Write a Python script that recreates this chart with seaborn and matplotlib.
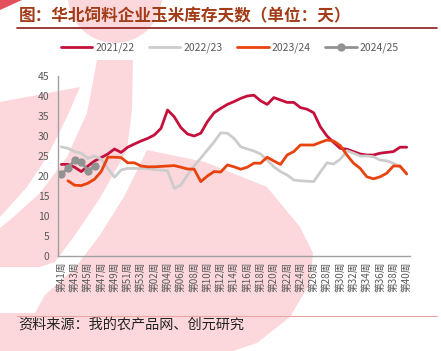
import numpy as np
import pandas as pd
import matplotlib
matplotlib.use("Agg")
import matplotlib.pyplot as plt
import seaborn as sns
from matplotlib.patches import Polygon, Circle
from matplotlib.transforms import Affine2D
from matplotlib.lines import Line2D

# ---------------- data ----------------
weeks = ["第%02d周" % w for w in range(41, 54)] + ["第%02d周" % w for w in range(1, 41)]
s2122 = [22.9, 22.9, 22.2, 21.1, 22.5, 23.75, 24.6, 25.5, 26.75, 25.9, 27.2, 28, 28.75, 29.4,
         30.25, 31.9, 36.5, 34.8, 32.1, 30.5, 30, 30.7, 33.6, 35.8, 36.9, 37.9, 38.6, 39.4, 40,
         40.2, 38.8, 37.9, 39.6, 39, 38.4, 38.4, 37.1, 36.7, 35.8, 32.3, 30, 28.4, 26.9, 26.7,
         26.1, 25.5, 25.25, 25.25, 25.7, 25.9, 26.1, 27.2, 27.2]
s2223 = [27.3, 26.9, 26.1, 25.7, 24.4, 25, 24.2, 21.9, 19.7, 21.5, 21.9, 21.9, 21.9, 21.8,
         21.6, 21.5, 21.3, 16.9, 17.75, 20.25, 22.5, 24.5, 26.5, 28.5, 30.8, 30.7, 29.4, 27.3,
         26.75, 26.25, 25.5, 24, 22.3, 21.1, 20.25, 19, 18.8, 18.7, 18.6, 21.0, 23.3, 23, 24.2,
         26.3, 25.7, 25, 25, 24.8, 24, 23.8, 23.2, 22.2, 20.7]
s2324 = [np.nan, 18.8, 17.7, 17.6, 18.2, 19.2, 21.1, 24.7, 24.7, 24.6, 23.3, 23.3, 22.5, 22.3,
         22.3, 22.4, 22.5, 22.6, 22.2, 21.75, 21.7, 18.6, 20, 21.1, 21, 22.75, 22.3, 21.7, 22.2,
         23.2, 23.2, 24.7, 23.75, 22.9, 25.25, 26.1, 27.75, 27.75, 27.75, 28.4, 29, 28.75, 27.6,
         25.25, 23.2, 21.9, 19.8, 19.3, 19.8, 20.7, 22.5, 22.5, 20.5]
s2425 = [20.5, 21.9, 24.0, 23.6, 21.3, 22.5]
seasons = ["2021/22", "2022/23", "2023/24", "2024/25"]
colors = ["#c5103c", "#cccccc", "#e8420e", "#929292"]

title = "图：华北饲料企业玉米库存天数（单位：天）"
source = "资料来源：我的农产品网、创元研究"

# ---------------- figure ----------------
sns.set_theme(style="white")
plt.rcParams['font.family'] = ['Noto Sans CJK SC', 'DejaVu Sans']

W, H = 441, 351
fig = plt.figure(figsize=(W / 100, H / 100), dpi=100)
fig.patch.set_facecolor("white")
px = Affine2D().scale(1 / W, -1 / H).translate(0, 1) + fig.transFigure

# decorative watermark shapes (pixel coords, y down)
pink = "#fcd8dc"
wm = dict(transform=px, facecolor=pink, edgecolor="none", zorder=-5)
fig.patches.append(Circle((115, -4), 47, **wm))
fig.patches.append(Polygon([(0, 0), (22, 0), (0, 10)], closed=True, transform=px,
                           facecolor="#e4505c", edgecolor="none", zorder=-5))
fig.patches.append(Polygon([(0, 102), (80, 87), (67, 117), (47, 157), (27, 187), (0, 217)],
                           closed=True, **wm))
fig.patches.append(Polygon([(97, 60), (133, 60), (132, 110), (127, 150), (100, 198), (75, 235),
                            (55, 262), (40, 267), (0, 267), (0, 228), (10, 220), (40, 193),
                            (67, 157), (87, 113)], closed=True, **wm))
fig.patches.append(Polygon([(147, 150), (205, 162), (267, 187), (300, 227), (313, 253),
                            (310, 283), (290, 317), (257, 343), (233, 351), (0, 351), (0, 313),
                            (35, 313), (45, 295), (75, 268), (100, 235), (125, 195)],
                           closed=True, **wm))

# title, rules and source
fig.text(19 / W, 1 - 16 / H, title, fontsize=12, fontweight="bold", color="#a23c18",
         ha="left", va="center")
fig.add_artist(Line2D([17 / W, 437 / W], [1 - 28 / H, 1 - 28 / H], color="#8e1b1b", lw=1.2))
fig.add_artist(Line2D([17 / W, 437 / W], [1 - 316 / H, 1 - 316 / H], color="#e8a3a3", lw=0.8))
fig.text(18 / W, 1 - 325 / H, source, fontsize=10.2, color="#222222", ha="left", va="center")

# axes
ax = fig.add_axes([58 / W, (H - 256) / H, 352 / W, 180 / H])
ax.set_facecolor("none")

n = len(weeks)
x = np.arange(n)
rows = []
for name, vals in zip(seasons, [s2122, s2223, s2324, s2425]):
    for i, v in enumerate(vals):
        rows.append({"week": i, "season": name, "value": v})
df = pd.DataFrame(rows)

for name, col in zip(seasons, colors):
    sub = df[df["season"] == name]
    if name == "2024/25":
        sns.lineplot(data=sub, x="week", y="value", ax=ax, color=col, lw=2.0,
                     marker="o", markersize=6, markeredgewidth=0, label=name, legend=False)
    else:
        sns.lineplot(data=sub, x="week", y="value", ax=ax, color=col, lw=2.0,
                     label=name, legend=False)

ax.set_xlim(-0.5, n - 0.5)
ax.set_ylim(0, 45)
ax.set_yticks(np.arange(0, 46, 5))
ax.set_xticks(x[::2])
ax.set_xticklabels(weeks[::2], rotation=90, fontsize=7, color="#595959")
ax.set_xticks(np.arange(-0.5, n, 1), minor=True)
ax.tick_params(axis="x", which="major", length=0, pad=4)
ax.tick_params(axis="x", which="minor", length=3, width=0.8, color="#a0a0a0", direction="out")
ax.tick_params(axis="y", which="major", length=3, width=0.8, color="#a0a0a0", direction="out",
               labelsize=7.5, labelcolor="#595959", pad=3)
ax.set_xlabel("")
ax.set_ylabel("")
for s in ["top", "right"]:
    ax.spines[s].set_visible(False)
for s in ["left", "bottom"]:
    ax.spines[s].set_color("#a0a0a0")
    ax.spines[s].set_linewidth(1.0)

handles, labels = ax.get_legend_handles_labels()
fig.legend(handles, labels, loc="center", bbox_to_anchor=(230 / W, 1 - 48 / H), ncol=4,
           frameon=False, fontsize=7.5, handlelength=3.0, handletextpad=0.3,
           columnspacing=1.4, labelcolor="#595959")

fig.savefig("out.png", dpi=100)
